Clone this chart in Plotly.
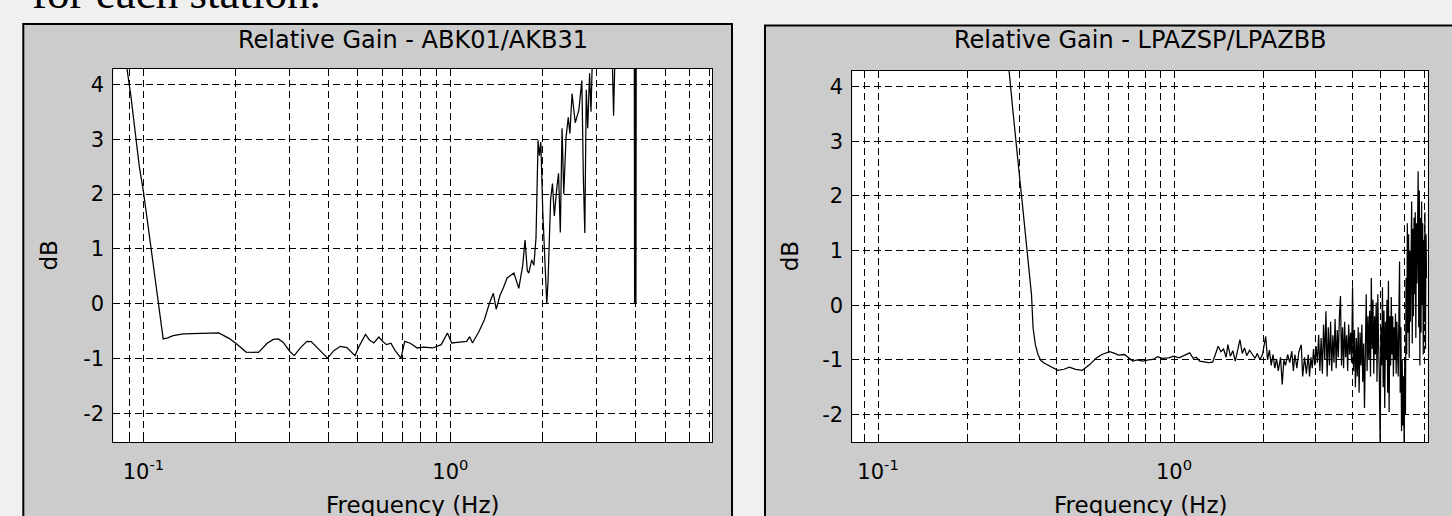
import plotly.graph_objects as go

W, H = 1452, 516

# ---------------- data ----------------
# Left panel: Relative Gain - ABK01/AKB31
abk_freq = [0.085, 0.091, 0.097, 0.100, 0.106, 0.112, 0.116, 0.120, 0.125, 0.135, 0.150, 0.165,
            0.176, 0.190, 0.200, 0.216, 0.237, 0.253, 0.265, 0.275, 0.285, 0.300, 0.310, 0.325,
            0.341, 0.352, 0.375, 0.398, 0.418, 0.438, 0.460, 0.489, 0.504, 0.529, 0.545, 0.563,
            0.585, 0.600, 0.619, 0.640, 0.660, 0.690, 0.710, 0.740, 0.780, 0.820, 0.875, 0.933,
            0.978, 1.010, 1.070, 1.130, 1.155, 1.180, 1.240, 1.290, 1.340, 1.380, 1.410, 1.450,
            1.490, 1.530, 1.610, 1.670, 1.720, 1.750, 1.780, 1.800, 1.840, 1.870, 1.900, 1.930,
            1.950, 1.970, 2.000, 2.030, 2.060, 2.080, 2.120, 2.150, 2.180, 2.220, 2.250, 2.280,
            2.310, 2.340, 2.380, 2.420, 2.450, 2.490, 2.550, 2.620, 2.680, 2.710, 2.740, 2.770,
            2.800, 2.840, 2.870, 2.900, 2.950, 3.200, 3.350, 3.400, 3.450, 3.800, 3.970, 3.980,
            3.990, 4.000, 4.010, 4.020, 4.030, 5.000, 7.000]
abk_db = [4.95, 3.80, 2.50, 2.05, 1.00, 0.05, -0.64, -0.62, -0.58, -0.55, -0.54, -0.54,
          -0.53, -0.63, -0.72, -0.88, -0.885, -0.72, -0.65, -0.64, -0.70, -0.87, -0.945, -0.80,
          -0.685, -0.69, -0.85, -0.99, -0.85, -0.776, -0.80, -0.945, -0.776, -0.56, -0.66, -0.715,
          -0.606, -0.68, -0.745, -0.72, -0.85, -0.99, -0.685, -0.72, -0.806, -0.79, -0.806, -0.745,
          -0.533, -0.715, -0.70, -0.685, -0.60, -0.715, -0.50, -0.29, 0.01, 0.19, -0.10, 0.15,
          0.30, 0.47, 0.56, 0.28, 0.70, 1.16, 0.60, 0.56, 0.80, 0.70, 1.20, 2.98,
          2.70, 2.95, 1.65, 0.90, 0.00, 0.43, 1.90, 2.19, 1.60, 2.10, 2.38, 1.30,
          3.20, 2.00, 3.03, 3.40, 3.10, 3.83, 3.30, 3.53, 4.07, 2.31, 1.29, 3.90,
          3.20, 4.20, 3.50, 4.50, 5.00, 5.50, 5.00, 3.43, 5.00, 6.00, 5.50, 0.00,
          5.00, 0.30, 5.00, 0.00, 5.50, 6.00, 6.00]

# Right panel: Relative Gain - LPAZSP/LPAZBB
lpaz_freq = [0.265, 0.277, 0.285, 0.293, 0.300, 0.308, 0.316, 0.324, 0.330, 0.334, 0.340, 0.347,
             0.355, 0.365, 0.380, 0.395, 0.405, 0.425, 0.443, 0.465, 0.490, 0.520, 0.545, 0.570,
             0.606, 0.630, 0.650, 0.680, 0.705, 0.725, 0.750, 0.785, 0.820, 0.850, 0.880, 0.910,
             0.960, 1.000, 1.040, 1.080, 1.130, 1.160, 1.190, 1.220, 1.260, 1.310, 1.350, 1.380,
             1.410, 1.440, 1.470, 1.500, 1.520, 1.550, 1.580, 1.610, 1.640, 1.670, 1.700, 1.730,
             1.760, 1.800, 1.840, 1.880, 1.910, 1.950, 1.990, 2.020, 2.040, 2.070, 2.100, 2.130,
             2.160, 2.190, 2.220, 2.250, 2.290, 2.320, 2.350, 2.380, 2.420, 2.460, 2.500, 2.530,
             2.560, 2.600, 2.640, 2.690, 2.720, 2.760, 2.800, 2.840, 2.870,
             2.90, 2.93, 2.96, 2.99, 3.02, 3.05, 3.08, 3.11, 3.14, 3.17, 3.20, 3.23,
             3.26, 3.29, 3.32, 3.35, 3.38, 3.41, 3.44, 3.47, 3.50, 3.53, 3.56, 3.59,
             3.62, 3.65, 3.68, 3.71, 3.74, 3.77, 3.80, 3.83, 3.86, 3.89, 3.92, 3.95,
             3.98, 4.01, 4.04, 4.07, 4.10, 4.13, 4.16, 4.19, 4.22, 4.25, 4.28, 4.31,
             4.34, 4.37, 4.40, 4.43, 4.46, 4.49, 4.52, 4.55, 4.58, 4.61, 4.64, 4.67,
             4.70, 4.73, 4.76, 4.79, 4.82, 4.85, 4.88, 4.91, 4.94, 4.97, 5.00, 5.03,
             5.06, 5.09, 5.12, 5.15, 5.18, 5.21, 5.24, 5.27, 5.30, 5.33, 5.36, 5.39,
             5.42, 5.45, 5.48, 5.51, 5.54, 5.57, 5.60, 5.63, 5.66, 5.69, 5.72, 5.75,
             5.78, 5.81, 5.84, 5.87, 5.90, 5.93, 5.96, 5.99, 6.02, 6.05, 6.08, 6.11,
             6.14, 6.17, 6.20, 6.23, 6.26, 6.29, 6.32, 6.35, 6.38, 6.41, 6.44, 6.47,
             6.50, 6.53, 6.56, 6.59, 6.62, 6.65, 6.68, 6.71, 6.74, 6.77, 6.80, 6.83,
             6.86, 6.89, 6.92, 6.95, 6.98, 7.01, 7.04, 7.07, 7.10, 7.13]
lpaz_db = [5.20, 4.30, 3.60, 2.90, 2.40, 1.80, 1.20, 0.60, 0.19, -0.41, -0.72, -0.90,
           -1.01, -1.06, -1.11, -1.16, -1.19, -1.17, -1.13, -1.17, -1.19, -1.08, -0.97, -0.90,
           -0.85, -0.88, -0.91, -0.90, -0.96, -1.02, -1.00, -1.02, -1.00, -0.99, -0.94, -0.97,
           -0.96, -0.93, -0.96, -0.92, -0.87, -0.97, -0.95, -1.02, -1.03, -1.05, -1.04, -0.90,
           -0.75, -0.85, -0.80, -0.95, -0.72, -0.93, -0.83, -1.02, -0.85, -0.63, -0.88, -0.78,
           -0.92, -0.82, -0.90, -0.97, -0.88, -0.99, -0.90, -0.70, -0.57, -1.00, -0.82, -1.10,
           -0.90, -1.15, -0.98, -1.20, -0.95, -1.45, -1.00, -1.10, -0.90, -1.05, -0.84, -1.20,
           -0.90, -1.15, -0.85, -0.72, -1.30, -0.95, -1.25, -0.90, -1.30,
           -0.95, -1.15, -0.80, -1.10, -0.75, -1.05, -0.54, -1.20, -0.60, -1.25, -0.35, -1.00,
           -0.11, -1.30, -0.40, -1.10, -0.30, -1.20, -0.55, -1.05, -0.25, -1.15, -0.45, -0.95,
           -0.20, 0.17, -1.10, -0.40, -1.15, -0.30, -0.95, -0.55, -1.20, -0.35, -0.90, -0.50,
           -1.05, 0.33, -1.20, -0.45, -1.50, -0.60, -1.30, -0.40, -1.60, -0.50, -1.10, -0.35,
           -1.40, -0.70, -1.88, -0.55, 0.20, -1.20, -0.20, -1.00, -0.10, -1.30, 0.50, -0.80,
           0.10, -1.25, -0.20, -0.90, 0.05, -1.40, 0.20, -0.70, -1.30, -2.60, -0.40, -1.10,
           0.33, -1.50, -0.10, -1.88, -0.30, -1.00, 0.10, -1.60, 0.45, -1.95, -0.20, -1.10,
           0.15, -0.90, -0.20, -1.30, -0.40, -1.00, -0.15, -1.25, -0.30, -0.80, -1.30, -0.20,
           0.80, -1.60, -0.40, -2.30, -1.00, -2.20, -1.30, -2.60, -1.00, -2.00, 0.50, -0.90,
           1.50, -0.50, 1.30, -0.96, 1.00, -0.30, 1.50, 1.90, -0.70, 1.40, -0.20, 1.60,
           0.20, 1.70, -0.60, 1.50, 0.40, 1.80, 2.45, -0.40, 2.10, -1.10, 1.60, -0.50,
           1.90, 0.00, 1.50, -0.90, 1.20, -0.30, 1.70, -0.80, 1.30, 0.50]

grid_freqs = [0.08, 0.09, 0.1, 0.2, 0.3, 0.4, 0.5, 0.6, 0.7, 0.8, 0.9,
              1, 2, 3, 4, 5, 6, 7]
grid_labels = ["", "", "10<sup>-1</sup>", "", "", "", "", "", "", "", "",
               "10<sup>0</sup>", "", "", "", "", "", ""]
db_ticks = [-2, -1, 0, 1, 2, 3, 4]
db_labels = ["-2", "-1", "0", "1", "2", "3", "4"]

titles = ["Relative Gain - ABK01/AKB31", "Relative Gain - LPAZSP/LPAZBB"]
x_label = "Frequency (Hz)"
y_label = "dB"
caption = "for each station."

# ---------------- layout geometry (pixels) ----------------
FONT = "DejaVu Sans"
L = dict(x0=113.3, x1=712.0, y0=69.0, y1=442.0)
R = dict(x0=852.3, x1=1427.7, y0=70.7, y1=442.0)


def px_dom_x(a, b):
    return [a / W, b / W]


def px_dom_y(top, bottom):
    return [1 - bottom / H, 1 - top / H]


fig = go.Figure()
fig.add_trace(go.Scatter(x=abk_freq, y=abk_db, mode="lines",
                         line=dict(color="black", width=1.25),
                         xaxis="x", yaxis="y", showlegend=False, hoverinfo="skip"))
fig.add_trace(go.Scatter(x=lpaz_freq, y=lpaz_db, mode="lines",
                         line=dict(color="black", width=1.25),
                         xaxis="x2", yaxis="y2", showlegend=False, hoverinfo="skip"))

common_x = dict(type="log", tickmode="array", tickvals=grid_freqs, ticktext=grid_labels,
                showgrid=True, gridcolor="black", gridwidth=1, griddash="7px,4px",
                showline=True, linecolor="black", linewidth=1, mirror="ticks",
                ticks="inside", ticklen=5, tickcolor="black", zeroline=False,
                tickfont=dict(family=FONT, size=21, color="black"), ticklabelstandoff=11)
common_y = dict(tickmode="array", tickvals=db_ticks, ticktext=db_labels,
                showgrid=True, gridcolor="black", gridwidth=1, griddash="7px,4px",
                showline=True, linecolor="black", linewidth=1, mirror="ticks",
                ticks="inside", ticklen=5, tickcolor="black", zeroline=False,
                tickfont=dict(family=FONT, size=21, color="black"), ticklabelstandoff=4)

fig.update_layout(
    width=W, height=H, autosize=False,
    margin=dict(l=0, r=0, t=0, b=0, pad=0),
    paper_bgcolor="#f0f0f0", plot_bgcolor="white",
    xaxis=dict(common_x, domain=px_dom_x(L["x0"], L["x1"]), range=[-1.098, 0.852], anchor="y"),
    yaxis=dict(common_y, domain=px_dom_y(L["y0"], L["y1"]), range=[-2.52, 4.28], anchor="x"),
    xaxis2=dict(common_x, domain=px_dom_x(R["x0"], R["x1"]), range=[-1.087, 0.857], anchor="y2"),
    yaxis2=dict(common_y, domain=px_dom_y(R["y0"], R["y1"]), range=[-2.50, 4.29], anchor="x2"),
)

shapes = []
# grey figure panels with black frames
for (x0, y0, x1, y1) in [(23.3, 24.0, 732.0, 530.0), (765.0, 25.5, 1470.0, 530.0)]:
    shapes.append(dict(type="rect", xref="paper", yref="paper", layer="below",
                       x0=x0 / W, x1=x1 / W, y0=1 - y1 / H, y1=1 - y0 / H,
                       fillcolor="#cccccc", line=dict(color="black", width=2)))
# white plotting areas
for xr, yr in [("x domain", "y domain"), ("x2 domain", "y2 domain")]:
    shapes.append(dict(type="rect", xref=xr, yref=yr, layer="below",
                       x0=0, x1=1, y0=0, y1=1, fillcolor="white", line=dict(width=0)))
fig.update_layout(shapes=shapes)

ann = []
for i, box in enumerate([L, R]):
    cx = (box["x0"] + box["x1"]) / 2 / W
    ann.append(dict(text=titles[i], xref="paper", yref="paper", x=cx, y=1 - 40 / H,
                    xanchor="center", yanchor="middle", showarrow=False,
                    font=dict(family=FONT, size=24, color="black")))
    ann.append(dict(text=x_label, xref="paper", yref="paper", x=cx, y=1 - 505 / H,
                    xanchor="center", yanchor="middle", showarrow=False,
                    font=dict(family=FONT, size=23, color="black")))
    ylx = 48 if i == 0 else 790
    ann.append(dict(text=y_label, xref="paper", yref="paper", x=ylx / W,
                    y=1 - (box["y0"] + box["y1"]) / 2 / H, textangle=-90,
                    xanchor="center", yanchor="middle", showarrow=False,
                    font=dict(family=FONT, size=23, color="black")))
ann.append(dict(text=caption, xref="paper", yref="paper", x=30 / W, y=1 + 7 / H,
                xanchor="left", yanchor="middle", showarrow=False,
                font=dict(family="Liberation Serif", size=45, color="black")))
fig.update_layout(annotations=ann)

fig.write_html("out.html",
               config={"displayModeBar": False, "staticPlot": True},
               post_script="document.body.style.margin='0';"
                           "document.body.style.background='#f0f0f0';")
